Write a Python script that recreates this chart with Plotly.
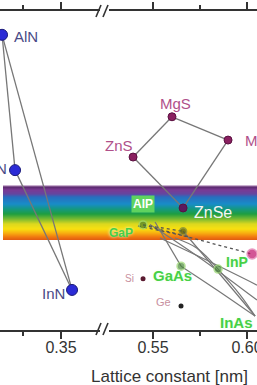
import plotly.graph_objects as go

# ---------------- data ----------------
# nitrides (left, broken axis segment)
nitride_names = ["AlN", "GaN", "InN"]
nitride_a = [0.2724, 0.2895, 0.3645]
nitride_eg = [6.21, 3.42, 0.95]

# II-VI compounds
ii_vi_names = ["ZnS", "MgS", "MgSe", "ZnSe"]
ii_vi_a = [0.5394, 0.5601, 0.5899, 0.5660]
ii_vi_eg = [3.69, 4.52, 4.04, 2.64]

# III-V compounds
iii_v_names = ["GaP", "AlAs", "GaAs", "InP", "CdSe", "InAs"]
iii_v_a = [0.5447, 0.5660, 0.5649, 0.5846, 0.6027, 0.6043]
iii_v_eg = [2.29, 2.16, 1.44, 1.38, 1.69, 0.41]

# elemental semiconductors
elem_names = ["Si", "Ge"]
elem_a = [0.5447, 0.5649]
elem_eg = [1.18, 0.62]

# connecting lines (solid)
nitride_links = [("AlN", "GaN"), ("AlN", "InN"), ("GaN", "InN")]
ii_vi_links = [("ZnS", "MgS"), ("MgS", "MgSe"), ("ZnS", "ZnSe"), ("MgSe", "ZnSe")]

# alloy curves, points (a [nm], Eg [eV])
curve_a = [
    [0.5511, 0.5649],
    [0.5649, 0.5840, 0.6043],
    [0.5537, 0.5803, 0.6053],
    [0.5660, 0.5883, 0.6043],
    [0.5846, 0.5963, 0.6043],
    [0.5617, 0.5734, 0.5846],
    [0.5484, 0.5750, 0.6053],
]
curve_eg = [
    [2.35, 1.44],
    [1.44, 0.95, 0.41],
    [2.02, 1.53, 1.05],
    [2.16, 1.15, 0.41],
    [1.38, 0.85, 0.41],
    [2.02, 1.81, 1.38],
    [2.30, 1.61, 0.74],
]
# dotted lines
dotted_a = [[0.5447, 0.6027], [0.5447, 0.5660], [0.5420, 0.5697]]
dotted_eg = [[2.29, 1.69], [2.29, 2.16], [2.27, 2.04]]

# axis ticks
left_ticks = [0.35]
left_minor = [0.30]
right_ticks = [0.55, 0.60]
right_minor = [0.575]
tick_labels_left = ["0.35"]
tick_labels_right = ["0.55", "0.60"]
x_title = "Lattice constant [nm]"

# ---------------- figure ----------------
W, H = 257, 385
TOP, BOT = 11, 330  # plot area in px


def px_x(p):
    return p / W


def px_y(p):
    return (BOT - p) / (BOT - TOP)


fig = go.Figure()

GRAY = "#777777"

nit = dict(zip(nitride_names, zip(nitride_a, nitride_eg)))
for n1, n2 in nitride_links:
    fig.add_trace(go.Scatter(x=[nit[n1][0], nit[n2][0]], y=[nit[n1][1], nit[n2][1]],
                             mode="lines", line=dict(color=GRAY, width=1.3),
                             xaxis="x", yaxis="y", hoverinfo="skip"))

iv = dict(zip(ii_vi_names, zip(ii_vi_a, ii_vi_eg)))
for n1, n2 in ii_vi_links:
    fig.add_trace(go.Scatter(x=[iv[n1][0], iv[n2][0]], y=[iv[n1][1], iv[n2][1]],
                             mode="lines", line=dict(color=GRAY, width=1.3),
                             xaxis="x2", yaxis="y", hoverinfo="skip"))

for ca, ce in zip(curve_a, curve_eg):
    fig.add_trace(go.Scatter(x=ca, y=ce, mode="lines",
                             line=dict(color=GRAY, width=1.2, shape="spline"),
                             xaxis="x2", yaxis="y", hoverinfo="skip"))

for da, de in zip(dotted_a, dotted_eg):
    fig.add_trace(go.Scatter(x=da, y=de, mode="lines",
                             line=dict(color="#555555", width=1.3, dash="dot"),
                             xaxis="x2", yaxis="y", hoverinfo="skip"))

# markers
fig.add_trace(go.Scatter(x=nitride_a, y=nitride_eg, mode="markers",
                         marker=dict(size=11, color="#2b2bd6", line=dict(color="#1a1a7a", width=1)),
                         xaxis="x", yaxis="y", hoverinfo="skip"))
fig.add_trace(go.Scatter(x=ii_vi_a, y=ii_vi_eg, mode="markers",
                         marker=dict(size=8, color=["#8a2060", "#8a2060", "#8a2060", "#5a1a5e"],
                                     line=dict(color="#5a1040", width=1)),
                         xaxis="x2", yaxis="y", hoverinfo="skip"))
fig.add_trace(go.Scatter(x=iii_v_a[:5], y=iii_v_eg[:5], mode="markers",
                         marker=dict(size=[8, 7, 8, 8, 10],
                                     color=["#4f7f2a", "#4a5a1a", "#4a8a3a", "#4a8a3a", "#c0106a"],
                                     line=dict(color=["#9ad870", "#7a8a40", "#9ad870", "#9ad870", "#e070a8"], width=1.5)),
                         xaxis="x2", yaxis="y", hoverinfo="skip"))
fig.add_trace(go.Scatter(x=elem_a, y=elem_eg, mode="markers",
                         marker=dict(size=5, color=["#5a1a30", "#222222"]),
                         xaxis="x2", yaxis="y", hoverinfo="skip"))

# ---------------- labels ----------------
FONT = "Liberation Sans, Arial, sans-serif"
NAVY = "#4a4a86"
PINK = "#b0508a"
GREEN = "#46d046"
glow = "0px 0px 3px #e8ffe0"


def label(text, ax, a, e, dx, dy, color, size, xanchor="center", bold=False, bg=None, shadow=None):
    f = dict(family=FONT, size=size, color=color)
    if bold:
        f["weight"] = "bold"
    if shadow:
        f["shadow"] = shadow
    d = dict(text=text, x=a, y=e, xref=ax, yref="y", showarrow=False,
             xshift=dx, yshift=dy, xanchor=xanchor, yanchor="middle", font=f)
    if bg:
        d["bgcolor"] = bg
        d["borderpad"] = 1
    fig.add_annotation(**d)


label("AlN", "x", nit["AlN"][0], nit["AlN"][1], 24, -2, NAVY, 15)
label("GaN", "x", nit["GaN"][0], nit["GaN"][1], -6, 2, NAVY, 15, xanchor="right")
label("InN", "x", nit["InN"][0], nit["InN"][1], -5, -4, NAVY, 15, xanchor="right")

label("ZnS", "x2", iv["ZnS"][0], iv["ZnS"][1], -14, 12, PINK, 15)
label("MgS", "x2", iv["MgS"][0], iv["MgS"][1], 3, 13, PINK, 15)
label("MgSe", "x2", iv["MgSe"][0], iv["MgSe"][1], 15, 0, PINK, 15, xanchor="left")
label("ZnSe", "x2", iv["ZnSe"][0], iv["ZnSe"][1], 30, -5, "#f4f4f4", 16)

iii = dict(zip(iii_v_names, zip(iii_v_a, iii_v_eg)))
label("AlP", "x2", iii["GaP"][0], iii["GaP"][1], 0, 21, "#ffffff", 12, bold=True, bg="#5fd35f")
label("GaP", "x2", iii["GaP"][0], iii["GaP"][1], -22, -8, GREEN, 12, bold=True, shadow=glow)
label("GaAs", "x2", iii["GaAs"][0], iii["GaAs"][1], -9, -9, GREEN, 15, bold=True, shadow=glow)
label("InP", "x2", iii["InP"][0], iii["InP"][1], 19, 7, GREEN, 14, bold=True, shadow=glow)
label("InAs", "x2", iii["InAs"][0], iii["InAs"][1], -19, -6, GREEN, 15, bold=True, shadow=glow)

label("Si", "x2", elem_a[0], elem_eg[0], -14, 0, "#c890a0", 10)
label("Ge", "x2", elem_a[1], elem_eg[1], -18, 4, "#c890a0", 11)

# axis title
fig.add_annotation(text=x_title, xref="paper", yref="paper", x=px_x(169), y=px_y(376),
                   showarrow=False, xanchor="center", yanchor="middle",
                   font=dict(family=FONT, size=17, color="#333333"))

# ---------------- rainbow band (visible spectrum) ----------------
stops = [
    (185, (240, 220, 240)),
    (187, (90, 40, 110)),
    (190, (122, 58, 148)),
    (194, (100, 70, 160)),
    (197, (40, 110, 190)),
    (204, (24, 140, 200)),
    (209, (20, 152, 130)),
    (214, (30, 158, 64)),
    (219, (120, 186, 48)),
    (224, (220, 216, 30)),
    (229, (248, 224, 16)),
    (233, (248, 176, 16)),
    (237, (240, 120, 16)),
    (240, (224, 90, 16)),
]


def col_at(p):
    for (p0, c0), (p1, c1) in zip(stops[:-1], stops[1:]):
        if p0 <= p <= p1:
            t = (p - p0) / (p1 - p0)
            return "rgb(%d,%d,%d)" % tuple(round(c0[i] + (c1[i] - c0[i]) * t) for i in range(3))
    return "rgb(224,90,16)"


shapes = []
for p in range(185, 240):
    shapes.append(dict(type="rect", xref="paper", yref="paper", layer="below",
                       x0=px_x(3), x1=1, y0=px_y(p + 1), y1=px_y(p),
                       fillcolor=col_at(p + 0.5), line=dict(width=0)))

# axis break marks
for yb in (335, 17):
    for xb in (96, 103):
        shapes.append(dict(type="line", xref="paper", yref="paper",
                           x0=px_x(xb), y0=px_y(yb), x1=px_x(xb + 5), y1=px_y(yb - 12),
                           line=dict(color="#333333", width=1.6)))

axis_common = dict(showline=True, linecolor="#333333", linewidth=1.5, mirror="ticks",
                   ticks="outside", ticklen=7, tickwidth=1.5, tickcolor="#333333",
                   showgrid=False, zeroline=False, fixedrange=True, automargin=False,
                   tickfont=dict(family=FONT, size=16, color="#333333"),
                   ticklabeloverflow="allow", ticklabelstandoff=-5)

fig.update_layout(
    width=W, height=H, autosize=False,
    margin=dict(l=0, r=0, t=TOP, b=H - BOT, pad=0, autoexpand=False),
    paper_bgcolor="white", plot_bgcolor="rgba(0,0,0,0)",
    showlegend=False,
    shapes=shapes,
    xaxis=dict(domain=[0, px_x(100)], range=[0.2697, 0.4013],
               tickmode="array", tickvals=left_ticks, ticktext=tick_labels_left,
               minor=dict(tickmode="array", tickvals=left_minor, ticks="outside", ticklen=4,
                          tickwidth=1.5, tickcolor="#333333"),
               anchor="y", **axis_common),
    xaxis2=dict(domain=[px_x(109), 1], range=[0.5266, 0.6053],
                tickmode="array", tickvals=right_ticks, ticktext=tick_labels_right,
                minor=dict(tickmode="array", tickvals=right_minor, ticks="outside", ticklen=4,
                           tickwidth=1.5, tickcolor="#333333"),
                anchor="y", **axis_common),
    yaxis=dict(visible=False, range=[0.124, 6.701], fixedrange=True),
)

fig.write_html("out.html", config={"displayModeBar": False},
               post_script="document.body.style.margin='0';document.body.style.overflow='hidden';")
